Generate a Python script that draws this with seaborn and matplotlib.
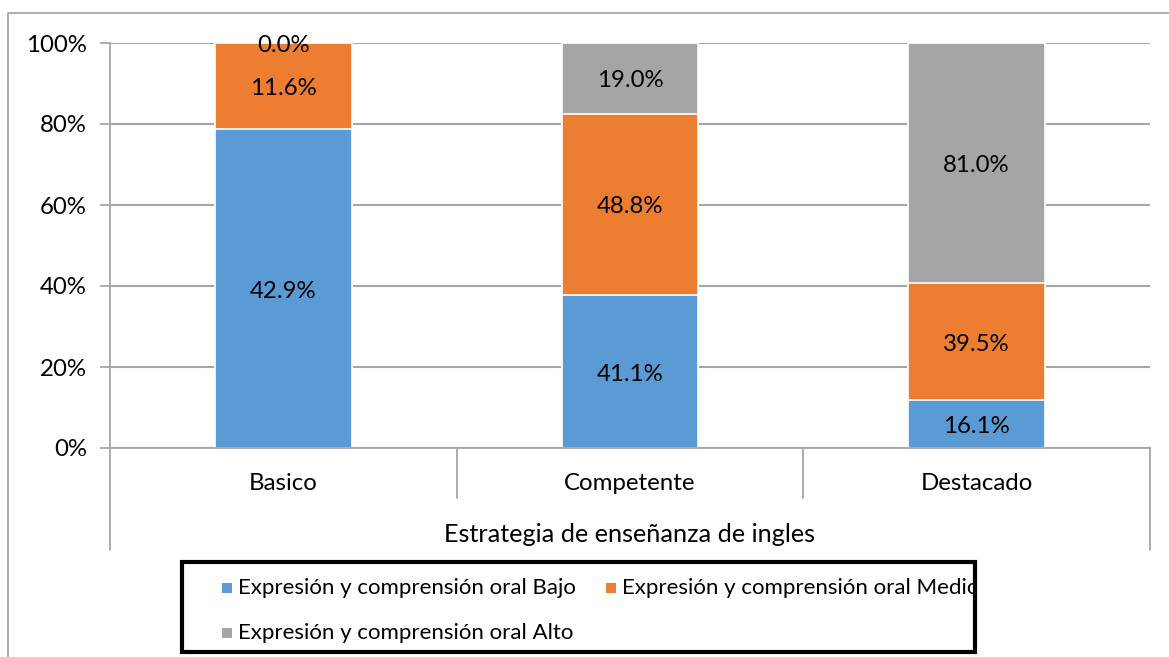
import numpy as np
import pandas as pd
import matplotlib
matplotlib.use("Agg")
import matplotlib.pyplot as plt
import seaborn as sns
from matplotlib.patches import Rectangle
from matplotlib.lines import Line2D
import matplotlib.transforms as mtransforms

# ---- data ----
categories = ["Basico", "Competente", "Destacado"]
series_names = ["Expresión y comprensión oral Bajo",
                "Expresión y comprensión oral Medio",
                "Expresión y comprensión oral Alto"]
bajo = [42.9, 41.1, 16.1]
medio = [11.6, 48.8, 39.5]
alto = [0.0, 19.0, 81.0]
y_ticks = [0, 20, 40, 60, 80, 100]
x_title = "Estrategia de enseñanza de ingles"

colors = ["#5B9BD5", "#ED7D31", "#A5A5A5"]

sns.set_theme(style="white")
plt.rcParams["font.family"] = ["Lato", "DejaVu Sans"]

FS = 17.3
FS_TITLE = 18.2
FS_LEG = 16

vals = np.array([bajo, medio, alto])  # series x categories
totals = vals.sum(axis=0)
shares = vals / totals  # fraction of each bar
cum = np.cumsum(shares, axis=0)

fig = plt.figure(figsize=(11.69, 6.57), dpi=100)
W, H = 1169, 657
ax = fig.add_axes([110 / W, 1 - 448 / H, (1150 - 110) / W, (448 - 43) / H])

# stacked: draw cumulative tops first, from top series down
for i in [2, 1, 0]:
    df = pd.DataFrame({"cat": categories, "val": cum[i]})
    sns.barplot(data=df, x="cat", y="val", color=colors[i], width=0.395,
                edgecolor="white", linewidth=1.2, saturation=1, ax=ax, zorder=2)

# labels
for i in range(3):
    bottoms = cum[i] - shares[i]
    for j in range(3):
        ycenter = bottoms[j] + shares[i][j] / 2
        ax.text(j, ycenter - 0.006, f"{vals[i][j]:.1f}%", ha="center", va="center",
                fontsize=FS, color="#000000", zorder=5)

ax.set_xlim(-0.5, 2.5)
ax.set_ylim(0, 1)
ax.set_yticks([t / 100 for t in y_ticks])
ax.set_yticklabels([f"{t}%" for t in y_ticks], fontsize=FS, color="#000000")
ax.set_xticks(range(3))
ax.set_xticklabels(categories, fontsize=FS, color="#000000")
ax.set_xlabel("")
ax.set_ylabel("")
ax.tick_params(axis="y", which="major", left=True, length=7, width=1.3,
               color="#A6A6A6", pad=9.5)
ax.tick_params(axis="x", which="major", bottom=False, pad=12)
ax.yaxis.grid(True, color="#A6A6A6", linewidth=1.5, zorder=0)
ax.set_axisbelow(True)
for s in ["top", "right"]:
    ax.spines[s].set_visible(False)
ax.spines["left"].set_color("#A6A6A6")
ax.spines["left"].set_linewidth(1.3)
ax.spines["bottom"].set_color("#A6A6A6")
ax.spines["bottom"].set_linewidth(1.3)

# multi-level category separators
trans = mtransforms.blended_transform_factory(ax.transData, ax.transAxes)
y_short = -(498 - 448) / 405
y_long = -(550 - 448) / 405
for x, yb in [(-0.5, y_long), (0.5, y_short), (1.5, y_short), (2.5, y_long)]:
    ax.add_line(Line2D([x, x], [0, yb], transform=trans, color="#A6A6A6",
                       linewidth=1.3, clip_on=False))
ax.text(1, -(534 - 448) / 405, x_title, transform=trans, ha="center",
        va="center", fontsize=FS_TITLE, color="#000000")

# outer frame (chart area border)
fig.add_artist(Line2D([8 / W, 8 / W, 1.0], [0, 1 - 13 / H, 1 - 13 / H],
                      transform=fig.transFigure, color="#A6A6A6", linewidth=1.3))

# legend box
lx0, ly0, lx1, ly1 = 182, 562, 975, 652
box = Rectangle((lx0 / W, 1 - ly1 / H), (lx1 - lx0) / W, (ly1 - ly0) / H,
                transform=fig.transFigure, facecolor="white", edgecolor="black",
                linewidth=3, zorder=10)
fig.add_artist(box)
entries = [(222, 238, 588, 0), (606, 622, 588, 1), (222, 238, 633, 2)]
clip_rect = Rectangle((lx0 / W, 1 - ly1 / H), (lx1 - 2 - lx0) / W, (ly1 - ly0) / H,
                      transform=fig.transFigure, facecolor="none", edgecolor="none")
fig.add_artist(clip_rect)
for mx, tx, cy, k in entries:
    fig.add_artist(Rectangle((mx / W, 1 - (cy + 5) / H), 10 / W, 10 / H,
                             transform=fig.transFigure, facecolor=colors[k],
                             edgecolor="none", zorder=11))
    t = fig.text(tx / W, 1 - cy / H, series_names[k], ha="left", va="center",
                 fontsize=FS_LEG, color="#000000", zorder=11)
    t.set_clip_path(clip_rect)

fig.savefig("out.png", dpi=100, facecolor="white")
